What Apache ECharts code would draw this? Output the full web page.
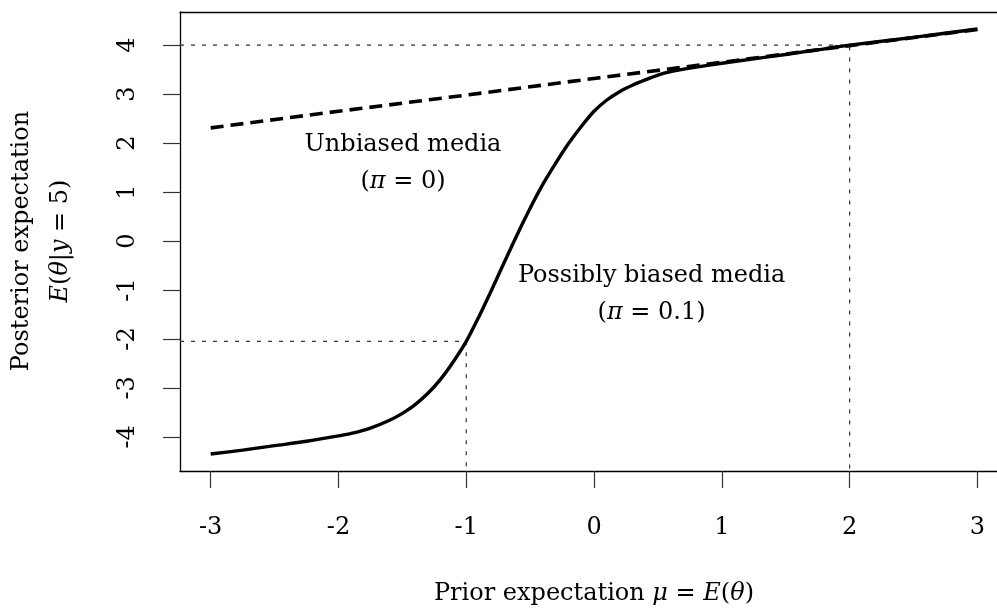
<!DOCTYPE html>
<html>
<head>
<meta charset="utf-8">
<script src="https://cdn.jsdelivr.net/npm/echarts@6/dist/echarts.min.js"></script>
<style>
  html, body { margin: 0; padding: 0; background: #fff; }
  #chart { width: 997px; height: 611px; }
</style>
</head>
<body>
<div id="chart"></div>
<script>
// Prior expectation grid and posterior expectation with possibly biased media (pi = 0.1)
const muGrid = [-3, -2.75, -2.5, -2.25, -2, -1.9, -1.75, -1.6, -1.5, -1.4, -1.3, -1.2, -1.1, -1, -0.9, -0.8,
  -0.7, -0.6, -0.5, -0.4, -0.3, -0.2, -0.1, 0, 0.1, 0.2, 0.3, 0.4, 0.5, 0.6, 0.75, 1, 1.25, 1.5, 1.75,
  2, 2.5, 3];
const posteriorBiased = [-4.35, -4.27, -4.18, -4.09, -3.98, -3.93, -3.82, -3.66, -3.52, -3.34, -3.11, -2.82,
  -2.46, -2.05, -1.54, -0.99, -0.42, 0.14, 0.67, 1.16, 1.59, 1.99, 2.34, 2.65, 2.88, 3.05, 3.18, 3.29,
  3.39, 3.46, 3.53, 3.63, 3.72, 3.81, 3.905, 4.0, 4.16, 4.33];

// Posterior expectation with unbiased media (pi = 0)
const muLine = [-3, -2, -1, 0, 1, 2, 3];
const posteriorUnbiased = [2.31, 2.65, 2.98, 3.32, 3.65, 3.99, 4.32];

// Reference points marked with dotted guides
const guideMu = [2, -1];
const guideValue = [4.0, -2.05];

// Tick labels
const xTicks = [-3, -2, -1, 0, 1, 2, 3];
const yTicks = [-4, -3, -2, -1, 0, 1, 2, 3, 4];

// Axis extents: the padded x range runs a little past the right edge of the page
const X_MIN = -3.24, X_MAX = 3.153;
const Y_MIN = -4.697, Y_MAX = 4.677;

// Annotation anchors in data coordinates
const unbiasedNoteAt = [-1.495, 1.59];
const biasedNoteAt = [0.45, -1.08];

const FONT = "'DejaVu Serif', 'Liberation Serif', serif";
const FS = 24;

const zip = (xs, ys) => xs.map((x, i) => [x, ys[i]]);

const guideSeries = guideMu.map((m, i) => ({
  type: 'line',
  data: [[X_MIN, guideValue[i]], [m, guideValue[i]], [m, Y_MIN]],
  showSymbol: false,
  silent: true,
  z: 1,
  lineStyle: { color: '#333', width: 1.2, type: [4, 7] }
}));

const frameLine = { show: true, onZero: false, lineStyle: { color: '#000', width: 1.3 } };

const chart = echarts.init(document.getElementById('chart'), null, { renderer: 'canvas' });

const option = {
  animation: false,
  backgroundColor: '#fff',
  grid: { left: 180, right: 0, top: 12, bottom: 140, show: false },
  xAxis: [
    {
      type: 'value', min: X_MIN, max: X_MAX, position: 'bottom',
      axisLine: frameLine,
      splitLine: { show: false },
      axisTick: { show: true, length: 17, customValues: xTicks, lineStyle: { color: '#333', width: 1.2 } },
      axisLabel: {
        customValues: xTicks, margin: 45,
        fontFamily: FONT, fontSize: FS, color: '#000',
        formatter: v => String(v)
      }
    },
    {
      type: 'value', min: X_MIN, max: X_MAX, position: 'top',
      axisLine: frameLine,
      splitLine: { show: false },
      axisTick: { show: false },
      axisLabel: { show: false }
    }
  ],
  yAxis: {
    type: 'value', min: Y_MIN, max: Y_MAX,
    axisLine: frameLine,
    splitLine: { show: false },
    axisTick: { show: true, length: 17, customValues: yTicks, lineStyle: { color: '#333', width: 1.2 } },
    axisLabel: {
      customValues: yTicks, margin: 40, rotate: 90,
      fontFamily: FONT, fontSize: FS, color: '#000',
      formatter: v => String(v)
    }
  },
  series: [
    ...guideSeries,
    {
      type: 'line',
      name: 'Unbiased media',
      data: zip(muLine, posteriorUnbiased),
      showSymbol: false,
      z: 3,
      lineStyle: { color: '#000', width: 3.6, type: [13, 7] }
    },
    {
      type: 'line',
      name: 'Possibly biased media',
      data: zip(muGrid, posteriorBiased),
      showSymbol: false,
      smooth: 0.3,
      z: 4,
      lineStyle: { color: '#000', width: 3.4 }
    }
  ]
};

chart.setOption(option);

const richStyles = {
  r: { fontFamily: FONT, fontSize: FS, fill: '#000', lineHeight: 37 },
  i: { fontFamily: FONT, fontSize: FS, fontStyle: 'italic', fill: '#000', lineHeight: 37 }
};

function note(pos, text) {
  const p = chart.convertToPixel({ gridIndex: 0 }, pos);
  return {
    type: 'text', x: p[0], y: p[1], z: 10,
    style: { text, rich: richStyles, align: 'center', verticalAlign: 'middle',
             font: FS + 'px ' + FONT, fill: '#000' }
  };
}

function axisTitle(x, y, rot, text) {
  return {
    type: 'text', x, y, rotation: rot, z: 10,
    style: { text, rich: richStyles, align: 'center', verticalAlign: 'middle',
             font: FS + 'px ' + FONT, fill: '#000' }
  };
}

chart.setOption({
  graphic: [
    note(unbiasedNoteAt, '{r|Unbiased media}\n{r|(}{i|π}{r| = 0)}'),
    note(biasedNoteAt, '{r|Possibly biased media}\n{r|(}{i|π}{r| = 0.1)}'),
    axisTitle(594, 594, 0, '{r|Prior expectation }{i|μ}{r| = }{i|E}{r|(}{i|θ}{r|)}'),
    axisTitle(22, 241, Math.PI / 2, '{r|Posterior expectation}'),
    axisTitle(61, 241, Math.PI / 2, '{i|E}{r|(}{i|θ}{r||}{i|y}{r| = 5)}')
  ]
});
</script>
</body>
</html>
